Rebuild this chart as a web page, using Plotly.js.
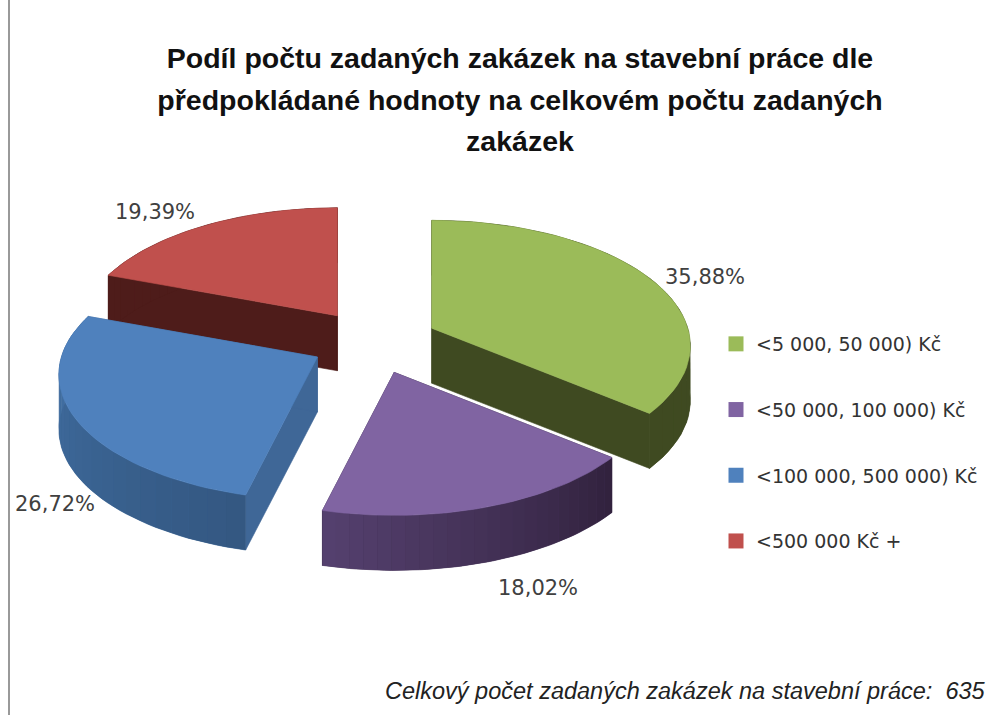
<!DOCTYPE html>
<html>
<head>
<meta charset="utf-8">
<script src="https://cdn.plot.ly/plotly-3.0.1.min.js"></script>
<style>html,body{margin:0;padding:0;background:#fff}#chart{width:994px;height:715px}</style>
</head>
<body>
<div id="chart"></div>
<script>
const categories = ['<5 000, 50 000) Kč', '<50 000, 100 000) Kč', '<100 000, 500 000) Kč', '<500 000 Kč +'];
const shares = [35.88, 18.02, 26.72, 19.39];
const topColors = ['#9BBB59', '#8064A2', '#4F81BD', '#C0504D'];
const wallColors = ['#3F4A21', '#33233F', '#3F6797', '#4E1C1A'];
const rimStartColors = [[63, 74, 33], [50, 34, 62], [52, 88, 130], [78, 28, 26]];
const rimEndColors = [[63, 74, 33], [84, 64, 110], [66, 113, 166], [78, 28, 26]];
const titleLines = ['Podíl počtu zadaných zakázek na stavební práce dle',
  'předpokládané hodnoty na celkovém počtu zadaných', 'zakázek'];
const footerText = 'Celkový počet zadaných zakázek na stavební práce:  635';
const labelPositions = [[705, 277], [538, 588], [55, 504], [155, 212]];
const drawOrder = [3, 0, 2, 1];

// Projection of the tilted pie: the back of the disc is foreshortened.
const view = {cx: 374, cy: 342, rx: 256, ry: 123, persp: 0.14, pullX: 64, pullY: 32, depth: 55};
const total = shares.reduce((a, b) => a + b, 0);
let cum = 0;
const slices = shares.map((v) => {
  const a0 = cum / total * 2 * Math.PI;
  cum += v;
  return {a0, a1: cum / total * 2 * Math.PI};
});

function rimPoint(apex, a) {
  const u = Math.sin(a), w = Math.cos(a), s = 1 / (1 + view.persp * w);
  return [apex[0] + view.rx * u * s, apex[1] - view.ry * w * s];
}
function poly(pts, color, lineWidth) {
  return {type: 'scatter', mode: 'lines', x: pts.map(p => p[0]), y: pts.map(p => p[1]),
    fill: 'toself', fillcolor: color, line: {width: lineWidth, color: color},
    showlegend: false, hoverinfo: 'skip'};
}
const down = (p) => [p[0], p[1] + view.depth];
const traces = [];
drawOrder.forEach((i) => {
  const {a0, a1} = slices[i];
  const mid = (a0 + a1) / 2;
  const apex = [view.cx + view.pullX * Math.sin(mid), view.cy - view.pullY * Math.cos(mid)];
  const n = 48, arc = [];
  for (let k = 0; k <= n; k++) arc.push(rimPoint(apex, a0 + (a1 - a0) * k / n));
  // radial walls
  [arc[0], arc[n]].forEach((p) => traces.push(poly([apex, p, down(p), down(apex), apex], wallColors[i], 0.6)));
  // outer rim: a base band, then shaded bands on top of it
  const midColor = rimStartColors[i].map((s, j) => Math.round((s + rimEndColors[i][j]) / 2));
  traces.push(poly(arc.concat(arc.slice().reverse().map(down)), `rgb(${midColor.join(',')})`, 0.6));
  const bands = 24;
  for (let b = 0; b < bands; b++) {
    const from = Math.round(b * n / bands), to = Math.round((b + 1) * n / bands);
    const seg = arc.slice(from, to + 1);
    const t = b / (bands - 1);
    const c = rimStartColors[i].map((s, j) => Math.round(s + (rimEndColors[i][j] - s) * t));
    traces.push(poly(seg.concat(seg.slice().reverse().map(down)), `rgb(${c.join(',')})`, 0));
  }
  // top face
  traces.push(poly([apex].concat(arc, [apex]), topColors[i], 0.6));
});
// legend entries
categories.forEach((name, i) => traces.push({
  type: 'scatter', mode: 'markers', x: [null], y: [null], name,
  legendgroup: 'g' + i, marker: {symbol: 'square', size: 15, color: topColors[i]}, hoverinfo: 'skip'
}));

const annotations = shares.map((v, i) => ({
  text: v.toFixed(2).replace('.', ',') + '%', x: labelPositions[i][0], y: labelPositions[i][1],
  xref: 'x', yref: 'y', showarrow: false, xanchor: 'center', yanchor: 'middle',
  font: {family: 'DejaVu Sans', size: 21, color: '#404040'}
}));
annotations.push({
  text: '<i>' + footerText + '</i>', x: 988, y: 691, xref: 'x', yref: 'y', showarrow: false,
  xanchor: 'right', yanchor: 'middle',
  font: {family: 'Liberation Sans', size: 23.5, color: '#222'}
});

const layout = {
  width: 994, height: 715, margin: {l: 0, r: 0, t: 0, b: 0},
  paper_bgcolor: '#fff', plot_bgcolor: '#fff',
  title: {
    text: titleLines.map(l => `<span style="font-size:28.5px">${l}</span>`).join('<br>'),
    font: {family: 'Liberation Sans', size: 32, color: '#111', weight: 700},
    x: 520 / 994, xanchor: 'center', y: 1 - 68 / 715, yanchor: 'top', xref: 'paper', yref: 'paper', pad: {t: 0}
  },
  xaxis: {range: [0, 994], visible: false, fixedrange: true},
  yaxis: {range: [715, 0], visible: false, fixedrange: true},
  legend: {
    x: 716 / 994, xanchor: 'left', y: 1 - 325 / 715, yanchor: 'top',
    tracegroupgap: 38, font: {family: 'DejaVu Sans', size: 19, color: '#333'},
    bgcolor: 'rgba(0,0,0,0)'
  },
  showlegend: true,
  annotations,
  shapes: [{type: 'line', xref: 'x', yref: 'y', x0: 9, x1: 9, y0: 0, y1: 715, line: {color: '#999', width: 2}}]
};
Plotly.newPlot('chart', traces, layout, {displayModeBar: false, staticPlot: true});
</script>
</body>
</html>
